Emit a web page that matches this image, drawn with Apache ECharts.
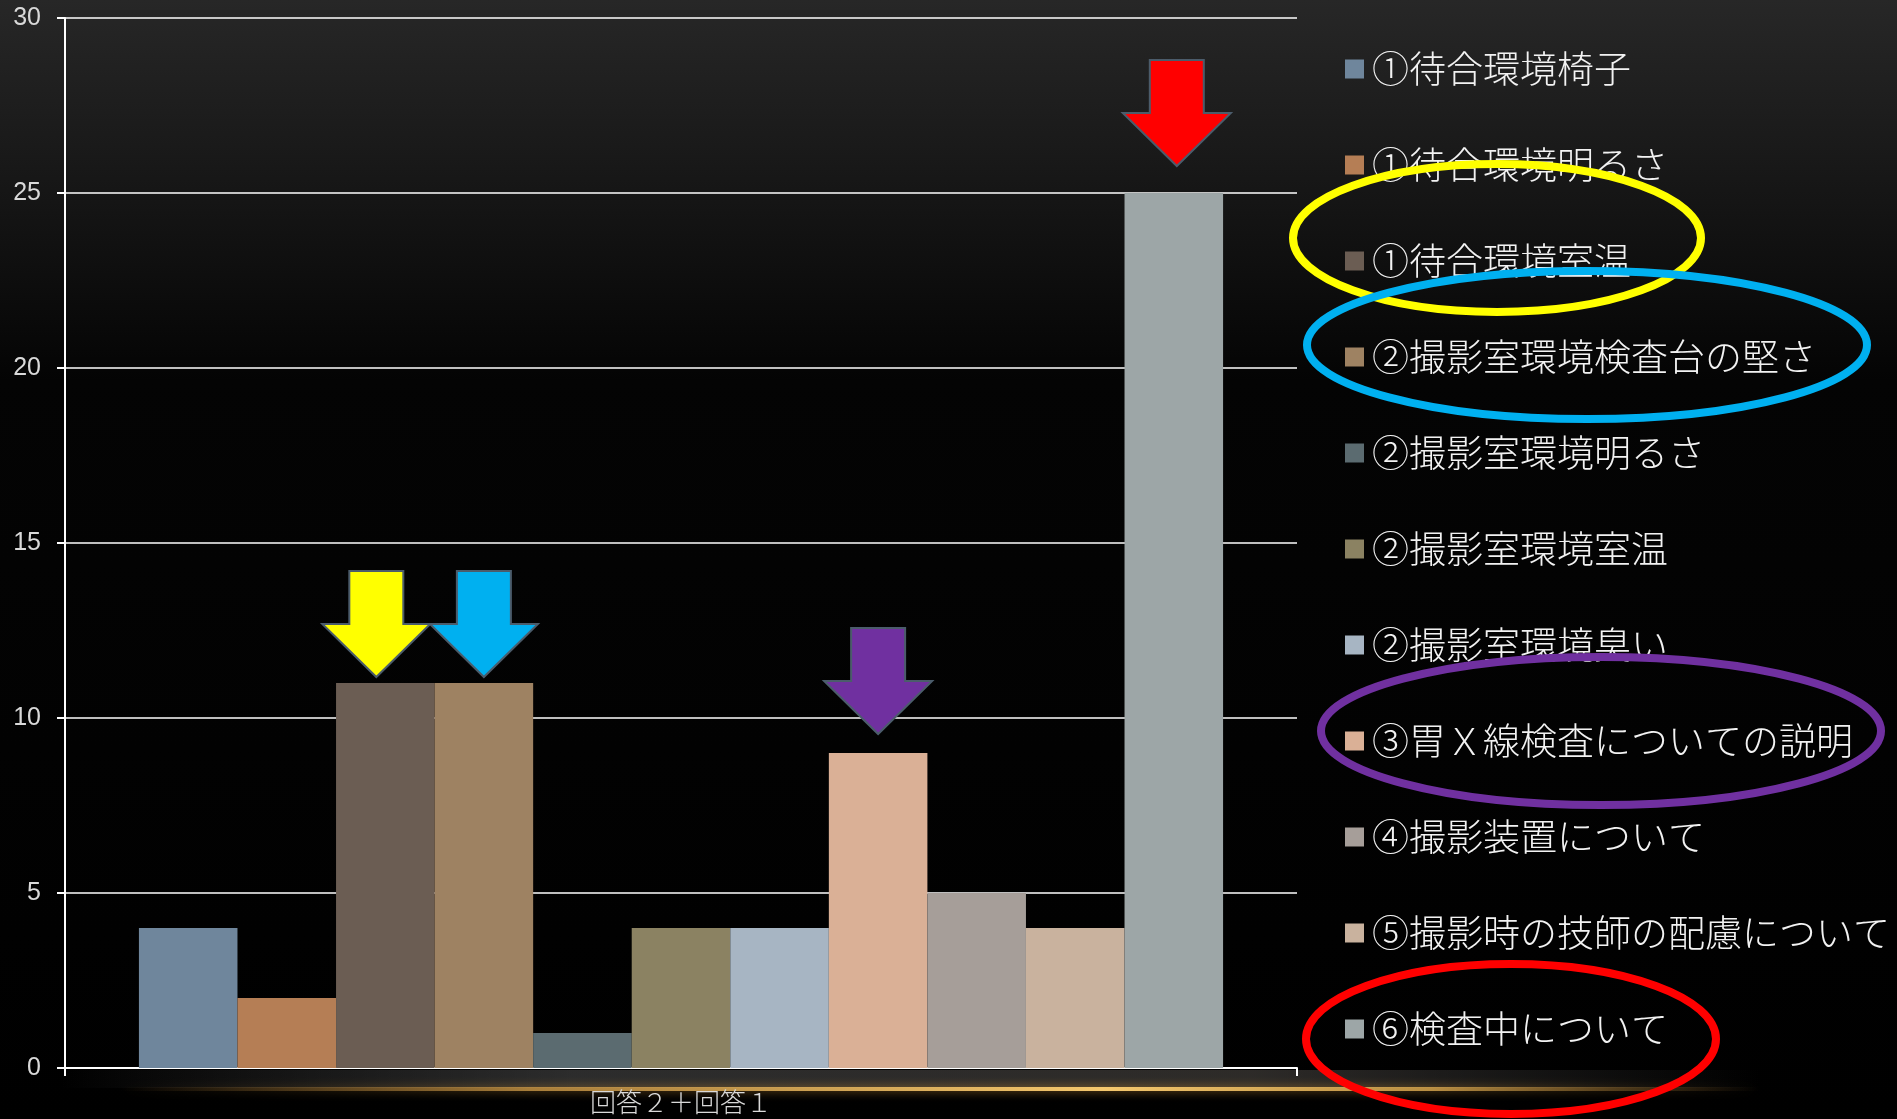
<!DOCTYPE html>
<html>
<head>
<meta charset="utf-8">
<script src="https://cdn.jsdelivr.net/npm/echarts@6/dist/echarts.min.js"></script>
<style>
html,body{margin:0;padding:0;background:#000;}
#chart{width:1897px;height:1119px;}
</style>
</head>
<body>
<div id="chart"></div>
<script>
// ---- data ----
var categories = ['回答２＋回答１'];
var seriesNames = [
  '①待合環境椅子',
  '①待合環境明るさ',
  '①待合環境室温',
  '②撮影室環境検査台の堅さ',
  '②撮影室環境明るさ',
  '②撮影室環境室温',
  '②撮影室環境臭い',
  '③胃Ｘ線検査についての説明',
  '④撮影装置について',
  '⑤撮影時の技師の配慮について',
  '⑥検査中について'
];
var seriesValues = [4, 2, 11, 11, 1, 4, 4, 9, 5, 4, 25];
var yTicks = [0, 5, 10, 15, 20, 25, 30];

// ---- styles ----
var palette = ['#6F869C','#B57E55','#6B5D53','#9E8262','#5B6B70','#8B8262','#A7B5C3','#DAB096','#A69E99','#C9B29E','#9DA6A7'];
var arrowPath = 'path://M27,0 L81,0 L81,53 L108,53 L54,106 L0,53 L27,53 Z';
// arrows pointing at bars: series index -> style
var arrowMarks = {
  2: {color:'#FFFF00', offset:[-9, -59]},
  3: {color:'#00B0F0', offset:[0, -59]},
  7: {color:'#7030A0', offset:[0, -72]},
  10:{color:'#FF0000', offset:[3, -80]}
};

var jp = '"Noto Sans CJK JP", "Noto Sans", sans-serif';

var series = seriesNames.map(function(name, i){
  var s = {
    name: name,
    type: 'bar',
    data: [seriesValues[i]],
    itemStyle: {color: palette[i]},
    barGap: '0%',
    barCategoryGap: '12%',
    silent: true
  };
  if (arrowMarks[i]) {
    s.markPoint = {
      symbol: arrowPath,
      symbolSize: [108, 106],
      symbolOffset: arrowMarks[i].offset,
      silent: true,
      label: {show: false},
      itemStyle: {color: arrowMarks[i].color, borderColor: '#4B5C6B', borderWidth: 2},
      data: [{type: 'max'}]
    };
  }
  return s;
});

var chart = echarts.init(document.getElementById('chart'), null, {renderer: 'canvas'});

var option = {
  animation: false,
  backgroundColor: '#000',
  color: palette,
  grid: {left: 65, right: 600, top: 18, bottom: 51, containLabel: false},
  legend: {
    orient: 'vertical',
    left: 1345,
    top: 49,
    padding: 0,
    itemWidth: 19,
    itemHeight: 19,
    itemGap: 56,
    icon: 'rect',
    selectedMode: false,
    data: seriesNames,
    textStyle: {color: '#F2F2F2', fontSize: 37, fontWeight: 300, fontFamily: jp, lineHeight: 40, padding: [0,0,0,3]}
  },
  xAxis: {
    type: 'category',
    data: categories,
    axisLine: {lineStyle: {color: '#FFFFFF', width: 2}},
    axisTick: {show: true, length: 8, lineStyle: {color: '#FFFFFF', width: 2}},
    axisLabel: {color: '#D9D9D9', fontSize: 26, fontWeight: 300, fontFamily: jp, margin: 21}
  },
  yAxis: {
    type: 'value',
    min: yTicks[0],
    max: yTicks[yTicks.length - 1],
    interval: yTicks[1] - yTicks[0],
    axisLine: {show: true, lineStyle: {color: '#FFFFFF', width: 2}},
    axisTick: {show: true, length: 8, lineStyle: {color: '#FFFFFF', width: 2}},
    splitLine: {show: true, lineStyle: {color: '#FFFFFF', width: 1.5}},
    axisLabel: {color: '#D9D9D9', fontSize: 25, fontFamily: '"Liberation Sans", Arial, sans-serif', margin: 24}
  },
  graphic: [
    {type: 'rect', z: -10, silent: true, shape: {x: 0, y: 0, width: 1897, height: 1119},
      style: {fill: {type: 'linear', x: 0, y: 0, x2: 0, y2: 1, colorStops: [
        {offset: 0, color: '#272727'}, {offset: 0.18, color: '#151515'}, {offset: 0.34, color: '#040404'}, {offset: 1, color: '#000000'}]}}},
    {type: 'rect', z: -5, silent: true, shape: {x: 60, y: 1070, width: 1700, height: 18},
      style: {fill: {type: 'linear', x: 0, y: 0, x2: 1, y2: 0, colorStops: [
        {offset: 0, color: 'rgba(90,90,90,0)'}, {offset: 0.3, color: 'rgba(80,80,80,0.55)'}, {offset: 0.7, color: 'rgba(90,85,80,0.5)'}, {offset: 1, color: 'rgba(90,90,90,0)'}]}}},
    {type: 'rect', z: -4, silent: true, shape: {x: 120, y: 1087, width: 1640, height: 4},
      style: {shadowBlur: 10, shadowColor: 'rgba(200,140,50,0.8)', fill: {type: 'linear', x: 0, y: 0, x2: 1, y2: 0, colorStops: [
        {offset: 0, color: 'rgba(180,130,60,0)'}, {offset: 0.25, color: 'rgba(200,150,70,0.8)'}, {offset: 0.6, color: 'rgba(245,200,110,1)'}, {offset: 0.8, color: 'rgba(220,170,80,0.8)'}, {offset: 1, color: 'rgba(180,130,60,0)'}]}}},
    {type: 'ellipse', z: 100, silent: true, shape: {cx: 1497, cy: 238, rx: 204, ry: 74},
      style: {fill: 'none', stroke: '#FFFF00', lineWidth: 8}},
    {type: 'ellipse', z: 100, silent: true, shape: {cx: 1587, cy: 345, rx: 280, ry: 74},
      style: {fill: 'none', stroke: '#00B0F0', lineWidth: 8}},
    {type: 'ellipse', z: 100, silent: true, shape: {cx: 1601, cy: 731, rx: 280, ry: 74},
      style: {fill: 'none', stroke: '#7030A0', lineWidth: 8}},
    {type: 'ellipse', z: 100, silent: true, shape: {cx: 1511, cy: 1039, rx: 205, ry: 75},
      style: {fill: 'none', stroke: '#FF0000', lineWidth: 8}}
  ],
  series: series
};
chart.setOption(option);
</script>
</body>
</html>
